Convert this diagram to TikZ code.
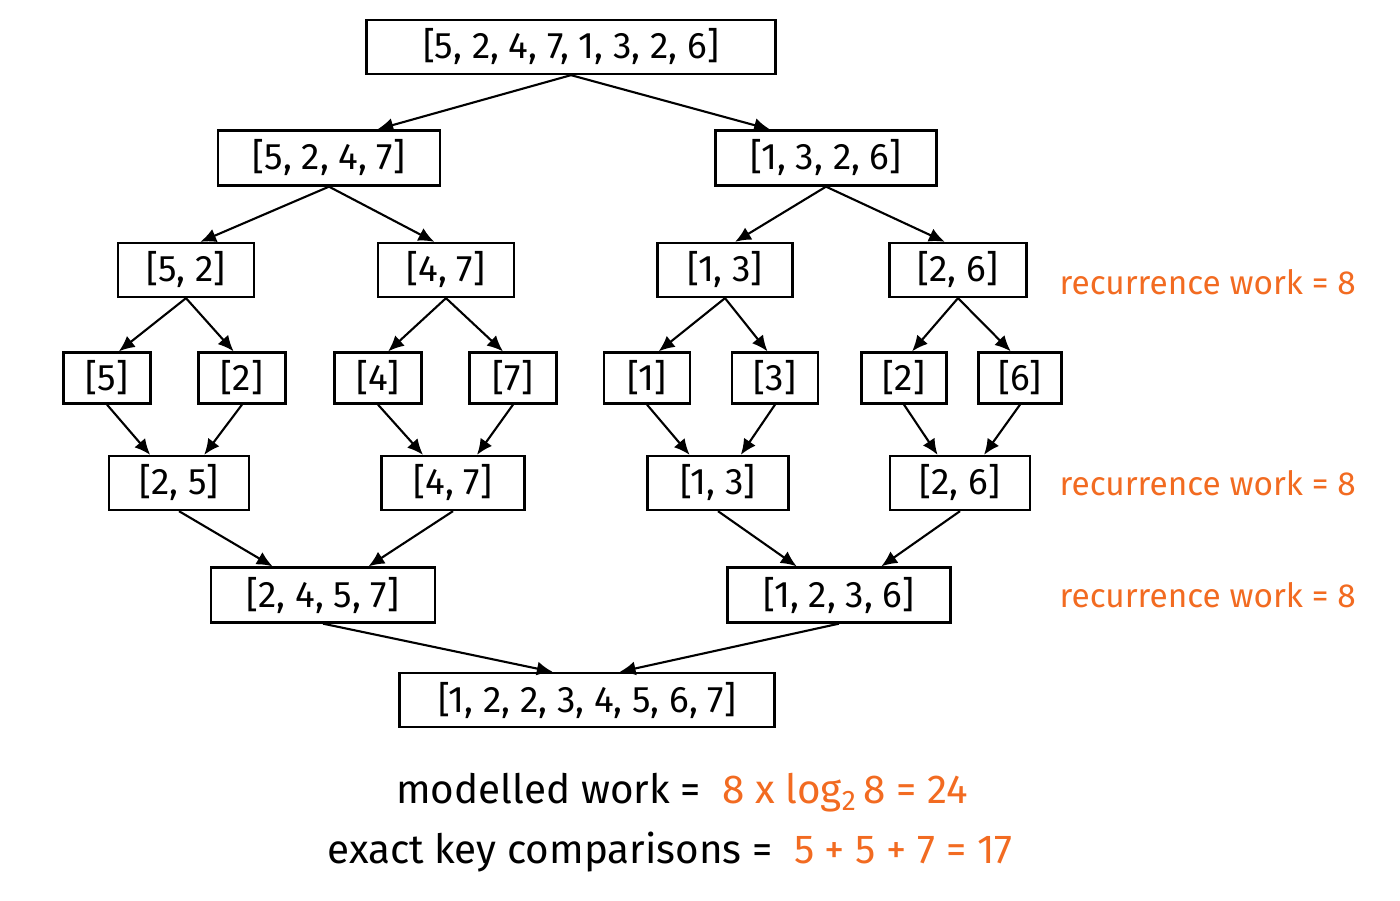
\documentclass[tikz,border=0pt]{standalone}
\usepackage{fontspec}
\setmainfont{Fira Sans}
\usetikzlibrary{calc,arrows.meta}
\definecolor{org}{HTML}{F26B21}
\begin{document}
\begin{tikzpicture}[x=0.02cm,y=-0.02cm,
 box/.style={draw,line width=1.3pt,inner sep=0pt,font=\fontsize{21}{24}\selectfont},
 arr/.style={-{Latex[length=9pt,width=8pt]},line width=1.2pt},
 lab/.style={anchor=east,text=org,font=\fontsize{19}{22}\selectfont}]
\useasboundingbox (0,0) rectangle (1400,900);
\newcommand{\bx}[5]{\node[box,minimum width=#3*0.02cm,minimum height=#4*0.02cm] (#1) at #2 {#5};}
\bx{r}{(571,47)}{409}{54}{[5, 2, 4, 7, 1, 3, 2, 6]}
\bx{a}{(329,158)}{222}{55}{[5, 2, 4, 7]}
\bx{b}{(826,158)}{221}{55}{[1, 3, 2, 6]}
\bx{aa}{(186,270)}{136}{54}{[5, 2]}
\bx{ab}{(446,270)}{136}{54}{[4, 7]}
\bx{ba}{(725,270)}{135}{54}{[1, 3]}
\bx{bb}{(958,270)}{137}{54}{[2, 6]}
\bx{l1}{(107,378)}{87}{51}{[5]}
\bx{l2}{(242,378)}{87}{51}{[2]}
\bx{l3}{(378,378)}{87}{51}{[4]}
\bx{l4}{(513,378)}{87}{51}{[7]}
\bx{l5}{(647,378)}{86}{51}{[1]}
\bx{l6}{(775,378)}{86}{51}{[3]}
\bx{l7}{(904,378)}{85}{51}{[2]}
\bx{l8}{(1020,378)}{83}{51}{[6]}
\bx{m1}{(179,483)}{140}{54}{[2, 5]}
\bx{m2}{(453,483)}{143}{54}{[4, 7]}
\bx{m3}{(718,483)}{141}{54}{[1, 3]}
\bx{m4}{(960,483)}{140}{54}{[2, 6]}
\bx{n1}{(323,595)}{224}{55}{[2, 4, 5, 7]}
\bx{n2}{(839,595)}{223}{55}{[1, 2, 3, 6]}
\bx{f}{(587,700)}{375}{54}{[1, 2, 2, 3, 4, 5, 6, 7]}
\newcommand{\edg}[3]{\draw[arr] (#1.south) -- ($(#2.north)!#3!(#1.south|-#2.north)$);}
\edg{r}{a}{0.2}\edg{r}{b}{0.22}
\edg{a}{aa}{0.1}\edg{a}{ab}{0.1}\edg{b}{ba}{0.1}\edg{b}{bb}{0.1}
\edg{aa}{l1}{0.15}\edg{aa}{l2}{0.15}\edg{ab}{l3}{0.15}\edg{ab}{l4}{0.15}
\edg{ba}{l5}{0.15}\edg{ba}{l6}{0.15}\edg{bb}{l7}{0.15}\edg{bb}{l8}{0.15}
\edg{l1}{m1}{0.4}\edg{l2}{m1}{0.4}\edg{l3}{m2}{0.4}\edg{l4}{m2}{0.4}
\edg{l5}{m3}{0.4}\edg{l6}{m3}{0.4}\edg{l7}{m4}{0.4}\edg{l8}{m4}{0.4}
\edg{m1}{n1}{0.35}\edg{m2}{n1}{0.35}\edg{m3}{n2}{0.35}\edg{m4}{n2}{0.35}
\edg{n1}{f}{0.13}\edg{n2}{f}{0.13}
\node[lab] (t1) at (1362,282) {recurrence work = 8};
\node[lab] (t2) at (1362,483) {recurrence work = 8};
\node[lab] (t3) at (1362,595) {recurrence work = 8};
\node[font=\fontsize{23}{26}\selectfont] (e1) at (682,793) {modelled work =\ \ \textcolor{org}{8 x log\textsubscript{2}\,8 = 24}};
\node[font=\fontsize{23}{26}\selectfont] (e2) at (670,852) {exact key comparisons =\ \ \textcolor{org}{5 + 5 + 7 = 17}};
\end{tikzpicture}
\end{document}
